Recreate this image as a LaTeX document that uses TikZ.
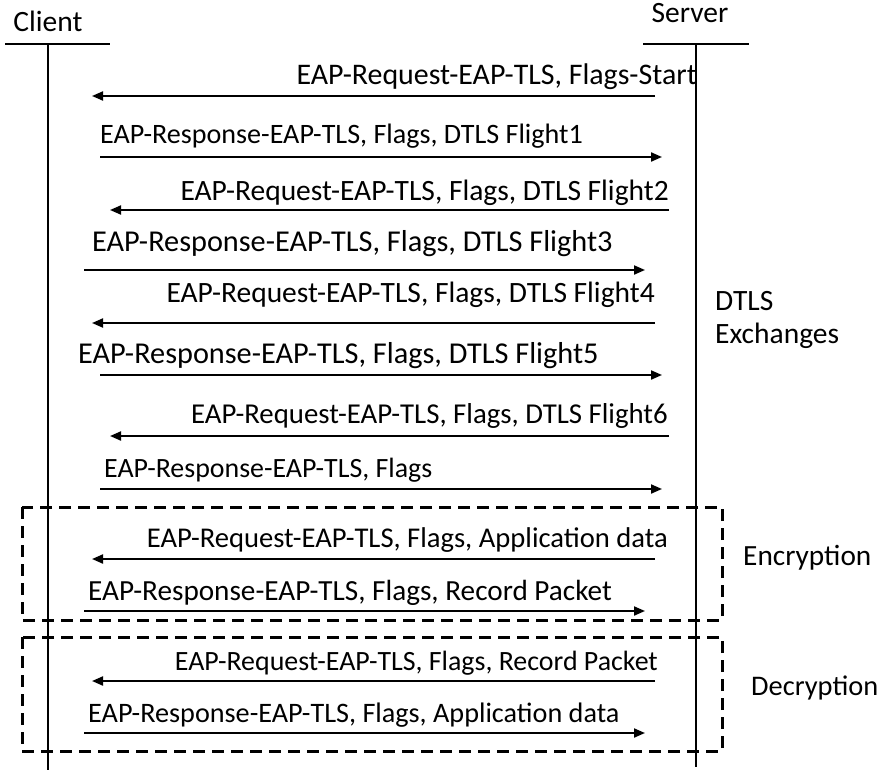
\documentclass[tikz,border=0pt]{standalone}
\usepackage{fontspec}
\setmainfont{Carlito}
\usetikzlibrary{arrows.meta}
\begin{document}
\begin{tikzpicture}[x=1pt,y=-1pt,
  txt/.style={inner sep=0pt,font=\fontsize{#1}{33}\selectfont},
  txt/.default=29.5,
  msg/.style={line width=2pt,-{Triangle[length=11pt,width=9pt]}},
  life/.style={line width=1.5pt},
  phase/.style={line width=3pt,dash pattern=on 12pt off 7pt}]
\useasboundingbox (0,0) rectangle (882,770);

% participants
\node[txt,anchor=base] (client) at (48,32) {Client};
\node[txt,anchor=base] (server) at (690,23) {Server};
\coordinate (cl) at (5,44);  \coordinate (cr) at (110,44);
\coordinate (sl) at (643,44); \coordinate (sr) at (749,44);
\coordinate (ctop) at (48,44); \coordinate (cbot) at (48,770);
\coordinate (stop) at (696,44); \coordinate (sbot) at (696,767);
\draw[life] (cl) -- (cr);
\draw[life] (sl) -- (sr);
\draw[life] (ctop) -- (cbot);
\draw[life] (stop) -- (sbot);

% DTLS handshake
\coordinate (a1s) at (655,96);  \coordinate (a1e) at (92,96);
\node[txt=29.9,anchor=base east] (l1) at (697,85) {EAP-Request-EAP-TLS, Flags-Start};
\draw[msg] (a1s) -- (a1e);

\coordinate (a2s) at (100,157); \coordinate (a2e) at (662,157);
\node[txt=28.1,anchor=base west] (l2) at (100,143) {EAP-Response-EAP-TLS, Flags, DTLS Flight1};
\draw[msg] (a2s) -- (a2e);

\coordinate (a3s) at (669,210); \coordinate (a3e) at (110,210);
\node[txt=29.5,anchor=base east] (l3) at (669,200) {EAP-Request-EAP-TLS, Flags, DTLS Flight2};
\draw[msg] (a3s) -- (a3e);

\coordinate (a4s) at (84,270);  \coordinate (a4e) at (645,270);
\node[txt=30.3,anchor=base west] (l4) at (92,251) {EAP-Response-EAP-TLS, Flags, DTLS Flight3};
\draw[msg] (a4s) -- (a4e);

\coordinate (a5s) at (655,323); \coordinate (a5e) at (92,323);
\node[txt=29.5,anchor=base east] (l5) at (655,302) {EAP-Request-EAP-TLS, Flags, DTLS Flight4};
\draw[msg] (a5s) -- (a5e);

\coordinate (a6s) at (100,375); \coordinate (a6e) at (662,375);
\node[txt=30.3,anchor=base west] (l6) at (78,363) {EAP-Response-EAP-TLS, Flags, DTLS Flight5};
\draw[msg] (a6s) -- (a6e);

\coordinate (a7s) at (669,436); \coordinate (a7e) at (110,436);
\node[txt=28.8,anchor=base east] (l7) at (668,423) {EAP-Request-EAP-TLS, Flags, DTLS Flight6};
\draw[msg] (a7s) -- (a7e);

\coordinate (a8s) at (100,489); \coordinate (a8e) at (662,489);
\node[txt=27.9,anchor=base west] (l8) at (104,477) {EAP-Response-EAP-TLS, Flags};
\draw[msg] (a8s) -- (a8e);

\node[txt,anchor=base west,align=left] (dtls) at (715,343) {DTLS\\Exchanges};

% encryption phase
\draw[phase] (22,507) rectangle (722,620);
\coordinate (a9s) at (655,559); \coordinate (a9e) at (92,559);
\node[txt=28.6,anchor=base east] (l9) at (668,547) {EAP-Request-EAP-TLS, Flags, Application data};
\draw[msg] (a9s) -- (a9e);

\coordinate (a10s) at (84,611); \coordinate (a10e) at (645,611);
\node[txt=29.2,anchor=base west] (l10) at (88,600) {EAP-Response-EAP-TLS, Flags, Record Packet};
\draw[msg] (a10s) -- (a10e);

\node[txt=29.3,anchor=base west] (enc) at (743,565) {Encryption};

% decryption phase
\draw[phase] (22,637) rectangle (722,751);
\coordinate (a11s) at (655,681); \coordinate (a11e) at (92,681);
\node[txt=27.9,anchor=base east] (l11) at (658,670) {EAP-Request-EAP-TLS, Flags, Record Packet};
\draw[msg] (a11s) -- (a11e);

\coordinate (a12s) at (84,733); \coordinate (a12e) at (645,733);
\node[txt=28.2,anchor=base west] (l12) at (88,722) {EAP-Response-EAP-TLS, Flags, Application data};
\draw[msg] (a12s) -- (a12e);

\node[txt=28.4,anchor=base west] (dec) at (751,695) {Decryption};
\end{tikzpicture}
\end{document}
